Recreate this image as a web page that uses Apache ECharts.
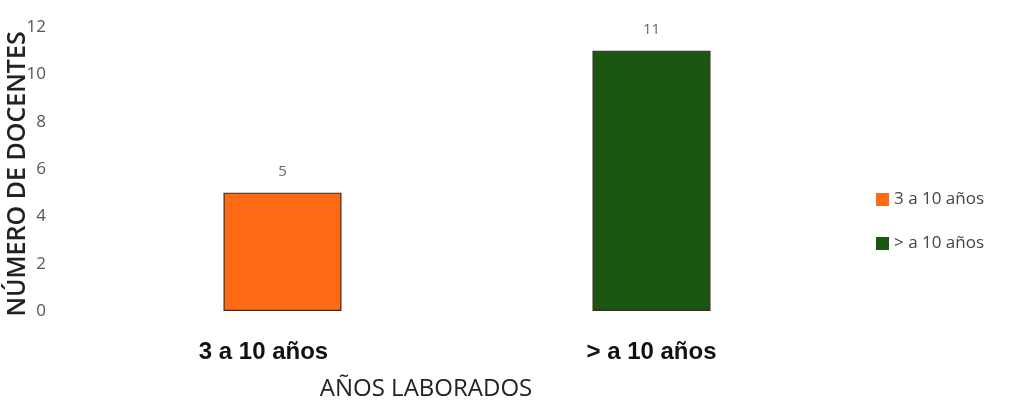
<!DOCTYPE html>
<html>
<head>
<meta charset="utf-8">
<script src="https://cdn.jsdelivr.net/npm/echarts@6/dist/echarts.min.js"></script>
<style>html,body{margin:0;padding:0;background:#fff}#c{width:1010px;height:403px}</style>
</head>
<body>
<div id="c"></div>
<script>
var categories = ['3 a 10 años', '> a 10 años'];
var seriesNames = ['3 a 10 años', '> a 10 años'];
var values = [5, 11];
var yTicks = [0, 2, 4, 6, 8, 10, 12];
var colors = ['#FF6A16', '#1B5612'];

var chart = echarts.init(document.getElementById('c'));
var series = seriesNames.map(function (name, i) {
  var d = categories.map(function (c, j) { return j === i ? values[i] : '-'; });
  return {
    name: name, type: 'bar', stack: 'all', data: d, barWidth: 118,
    itemStyle: { color: colors[i], borderColor: '#3a2a20', borderWidth: 1.2 },
    label: { show: true, position: 'top', distance: 13, color: '#666', fontSize: 15, fontFamily: 'Open Sans' }
  };
});
var catData = categories.map(function (c, j) {
  return j === 0 ? { value: c, textStyle: { padding: [0, 38, 0, 0] } } : c;
});
chart.setOption({
  animation: false,
  backgroundColor: '#fff',
  grid: { left: 98, right: 174, top: 27, bottom: 92, outerBoundsMode: 'none', containLabel: false },
  legend: {
    orient: 'vertical', left: 871, top: 186, itemGap: 27, itemWidth: 13, itemHeight: 13, itemTextGap: 3,
    icon: 'rect', itemStyle: { borderWidth: 0 },
    textStyle: { color: '#444', fontSize: 17, fontFamily: 'Open Sans' },
    data: seriesNames
  },
  xAxis: {
    type: 'category', data: catData,
    axisLine: { show: false }, axisTick: { show: false },
    axisLabel: { margin: 29, color: '#111', fontWeight: 'bold', fontSize: 24, fontFamily: 'Liberation Sans' },
    name: 'AÑOS LABORADOS', nameLocation: 'middle', nameGap: 66, nameMoveOverlap: false,
    nameTextStyle: { color: '#222', fontSize: 24, fontFamily: 'Open Sans', padding: [0, 82, 0, 0] }
  },
  yAxis: {
    type: 'value', min: yTicks[0], max: yTicks[yTicks.length - 1], interval: 2,
    axisLine: { show: false }, axisTick: { show: false }, splitLine: { show: false },
    axisLabel: { margin: 52, color: '#555', fontSize: 17, fontFamily: 'Open Sans' },
    name: 'NÚMERO DE DOCENTES', nameLocation: 'middle', nameGap: 68, nameRotate: 90, nameMoveOverlap: false,
    nameTextStyle: { color: '#222', fontSize: 25, fontWeight: 600, fontFamily: 'Open Sans', padding: [0, 10, 0, 0] }
  },
  series: series
});
</script>
</body>
</html>
